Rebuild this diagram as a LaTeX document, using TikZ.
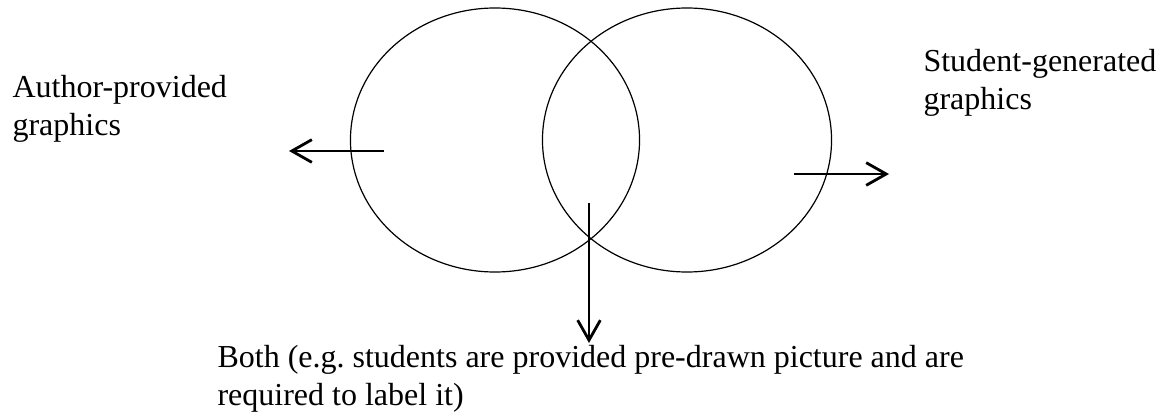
\documentclass[tikz,border=0pt]{standalone}
\usepackage{fontspec}
\setmainfont{Liberation Serif}
\usetikzlibrary{arrows.meta, shapes.geometric}
\frenchspacing
\tikzset{
  setnode/.style   = {draw, ellipse, line width=0.45pt, minimum width=108.4pt,
                      minimum height=99pt, inner sep=0pt, outer sep=0pt},
  labelnode/.style = {anchor=base west, align=left, inner sep=0pt,
                      font=\fontsize{12}{14.25}\selectfont},
  pointer/.style   = {-{Straight Barb[length=7.5pt, width=8.5pt]}, line width=1.05pt},
}

\begin{document}
\begin{tikzpicture}[x=0.375pt, y=-0.375pt]
    \useasboundingbox (0,0) rectangle (1165,417);

    % the two overlapping sets
    \node[setnode] (author)  at (495,140) {};
    \node[setnode] (student) at (687,140) {};

    % labels (base = last line)
    \node[labelnode] (authortxt)  at (12,135)  {Author-provided\\graphics};
    \node[labelnode] (studenttxt) at (923,110) {Student-generated\\graphics};
    \node[labelnode] (bothtxt)    at (217,405) {Both (e.g. students are provided pre-drawn picture and are\\required to label it)};

    % arrow ends
    \coordinate (a1) at (384,151);
    \coordinate (a2) at (289,151);
    \coordinate (s1) at (794,174);
    \coordinate (s2) at (889,174);
    \coordinate (b1) at (589,203);
    \coordinate (b2) at (589,343);

    \draw[pointer] (a1) -- (a2);
    \draw[pointer] (s1) -- (s2);
    \draw[pointer] (b1) -- (b2);
\end{tikzpicture}
\end{document}
